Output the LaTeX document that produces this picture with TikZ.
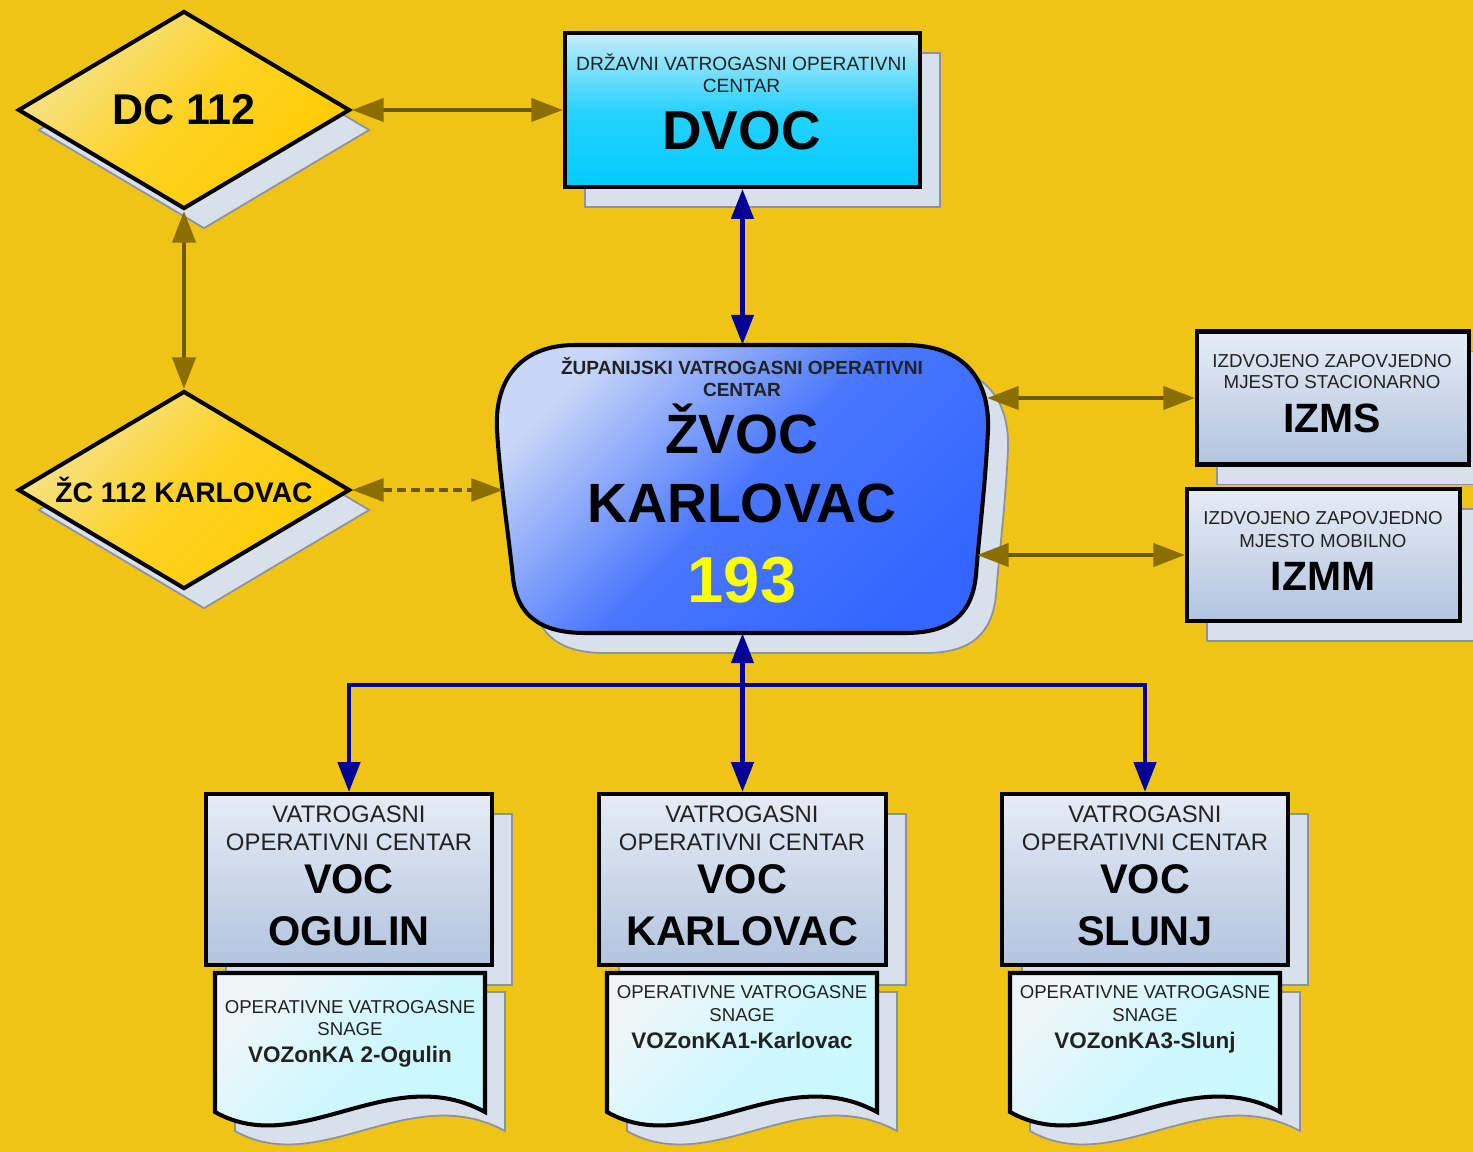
\documentclass[tikz,border=0pt]{standalone}
\usepackage{fontspec}
\setmainfont{Liberation Sans}
\usetikzlibrary{arrows.meta,shapes.geometric,shadows}
\definecolor{bgc}{HTML}{EFC415}
\definecolor{shc}{HTML}{D8E0EC}
\definecolor{shd}{HTML}{8A93A4}
\definecolor{diaL}{HTML}{F6E490}
\definecolor{diaD}{HTML}{FFCC00}
\definecolor{cyL}{HTML}{C6ECFA}
\definecolor{cyD}{HTML}{00CCFF}
\definecolor{bluL}{HTML}{C8D6F8}
\definecolor{bluD}{HTML}{3366FF}
\definecolor{grL}{HTML}{E6ECF5}
\definecolor{grD}{HTML}{B2C4DF}
\definecolor{docL}{HTML}{EEF6F8}
\definecolor{docD}{HTML}{C8F8FF}
\definecolor{olv}{HTML}{6E5800}
\definecolor{olh}{HTML}{8A6E00}
\definecolor{bln}{HTML}{000096}
\definecolor{txg}{HTML}{222222}
\definecolor{yel}{HTML}{FFFF00}
\newcommand\myfs[1]{\fontsize{#1}{#1}\selectfont}
\newcommand\docshape[2]{%
 \begin{scope}[shift={(20,19)}]
 \fill[shc,draw=shd,line width=1pt] (#1,#2) -- ({#1+270},#2) -- ({#1+270},{#2+139}) .. controls ({#1+175},{#2+87}) and ({#1+85},{#2+187}) .. (#1,{#2+139}) -- cycle;
 \end{scope}
 \draw[line width=2.3pt,top color=docL,bottom color=docD,middle color=docD!80!docL,shading angle=45] (#1,#2) -- ({#1+270},#2) -- ({#1+270},{#2+139}) .. controls ({#1+175},{#2+87}) and ({#1+85},{#2+187}) .. (#1,{#2+139}) -- cycle;
}
\begin{document}
\begin{tikzpicture}[x=0.02cm,y=-0.02cm,
 shadowed/.style={drop shadow={shadow xshift=0.4cm,shadow yshift=-0.4cm,opacity=1,fill=shc,draw=shd,line width=1pt}},
 diam/.style={shape=diamond,aspect=1.68,inner sep=0pt,minimum width=6.64cm,minimum height=3.96cm,draw=black,line width=2.3pt,top color=diaL,bottom color=diaD,middle color=diaD!75!diaL,shading angle=45,shadowed},
 rbox/.style={draw=black,line width=2.3pt,inner sep=0pt,shading angle=45,shadowed},
 gbox/.style={rbox,top color=grL,bottom color=grD},
 t/.style={inner sep=0pt,anchor=base,align=center},
 oarr/.style={draw=olv,line width=2.6pt,>={Triangle[length=18pt,width=13pt,color=olh]}},
 barr/.style={draw=bln,line width=2.6pt,>={Triangle[length=17pt,width=12.5pt]}}
]
\path[fill=bgc,use as bounding box] (0,0) rectangle (1473,1152);

% diamonds
\node[diam] (dc) at (184,110) {\myfs{24.5pt}\bfseries DC 112};
\node[diam] (zc) at (184,490) {\myfs{16.1pt}\bfseries ŽC 112 KARLOVAC};

% DVOC
\node[rbox,top color=cyL,bottom color=cyD,middle color=cyD!80!cyL,minimum width=7.1cm,minimum height=3.08cm] (dvoc) at (742.5,110) {};

% ZVOC
\begin{scope}[shift={(20,20)}]
\fill[shc,draw=shd,line width=1pt] (575,345) -- (905,345) .. controls (960,345) and (990,375) .. (988,430) .. controls (985,490) and (979,535) .. (976,575) .. controls (972,615) and (950,633) .. (905,633) -- (585,633) .. controls (540,633) and (517,615) .. (513,578) .. controls (508,530) and (500,480) .. (497,430) .. controls (494,375) and (525,345) .. (575,345) -- cycle;
\end{scope}
\draw[line width=2.3pt,top color=bluL,bottom color=bluD,middle color=bluD!85!bluL,shading angle=45] (575,345) -- (905,345) .. controls (960,345) and (990,375) .. (988,430) .. controls (985,490) and (979,535) .. (976,575) .. controls (972,615) and (950,633) .. (905,633) -- (585,633) .. controls (540,633) and (517,615) .. (513,578) .. controls (508,530) and (500,480) .. (497,430) .. controls (494,375) and (525,345) .. (575,345) -- cycle;
\node[minimum width=9.82cm,minimum height=5.76cm,inner sep=0pt] (zvoc) at (742.5,489) {};
\coordinate (zvocL) at (503,490);
\coordinate (zvocR1) at (987,398);
\coordinate (zvocR2) at (977,555);

% IZMS / IZMM
\node[gbox,minimum width=5.44cm,minimum height=2.66cm] (izms) at (1333,398) {};
\node[gbox,minimum width=5.46cm,minimum height=2.64cm] (izmm) at (1323.5,555) {};

% VOC boxes
\node[gbox,minimum width=5.72cm,minimum height=3.42cm] (vocO) at (349,879.5) {};
\node[gbox,minimum width=5.74cm,minimum height=3.42cm] (vocK) at (742.5,879.5) {};
\node[gbox,minimum width=5.72cm,minimum height=3.42cm] (vocS) at (1145,879.5) {};

% documents
\docshape{215}{973}
\docshape{607}{973}
\docshape{1010}{973}

% texts DVOC
\node[t,text=txg] (dv1) at (741.5,71) {\myfs{10.9pt}DRŽAVNI VATROGASNI OPERATIVNI};
\node[t,text=txg] (dv2) at (741.5,93) {\myfs{10.9pt}CENTAR};
\node[t] (dv3) at (741.5,150) {\myfs{31.2pt}\bfseries DVOC};
% texts ZVOC
\node[t,text=txg] (zv1) at (742,374) {\myfs{10.85pt}\bfseries ŽUPANIJSKI VATROGASNI OPERATIVNI};
\node[t,text=txg] (zv2) at (742,396) {\myfs{10.85pt}\bfseries CENTAR};
\node[t] (zv3) at (742,453) {\myfs{31.5pt}\bfseries ŽVOC};
\node[t] (zv4) at (742,522) {\myfs{31.5pt}\bfseries KARLOVAC};
\node[t,text=yel] (zv5) at (742,602) {\myfs{37pt}\bfseries 193};
% IZMS / IZMM
\node[t,text=txg] (is1) at (1332,367) {\myfs{10.65pt}IZDVOJENO ZAPOVJEDNO};
\node[t,text=txg] (is2) at (1332,388) {\myfs{10.65pt}MJESTO STACIONARNO};
\node[t] (is3) at (1332,432) {\myfs{23.3pt}\bfseries IZMS};
\node[t,text=txg] (im1) at (1323,524) {\myfs{10.65pt}IZDVOJENO ZAPOVJEDNO};
\node[t,text=txg] (im2) at (1323,547) {\myfs{10.65pt}MJESTO MOBILNO};
\node[t] (im3) at (1323,590) {\myfs{23.3pt}\bfseries IZMM};
% VOC texts
\node[t,text=txg] (o1) at (349,822) {\myfs{13.6pt}VATROGASNI};
\node[t,text=txg] (o2) at (349,850) {\myfs{13.6pt}OPERATIVNI CENTAR};
\node[t] (o3) at (349,893) {\myfs{23.6pt}\bfseries VOC};
\node[t] (o4) at (349,945) {\myfs{23.6pt}\bfseries OGULIN};
\node[t,text=txg] (k1) at (742,822) {\myfs{13.6pt}VATROGASNI};
\node[t,text=txg] (k2) at (742,850) {\myfs{13.6pt}OPERATIVNI CENTAR};
\node[t] (k3) at (742,893) {\myfs{23.6pt}\bfseries VOC};
\node[t] (k4) at (742,945) {\myfs{23.6pt}\bfseries KARLOVAC};
\node[t,text=txg] (s1) at (1145,822) {\myfs{13.6pt}VATROGASNI};
\node[t,text=txg] (s2) at (1145,850) {\myfs{13.6pt}OPERATIVNI CENTAR};
\node[t] (s3) at (1145,893) {\myfs{23.6pt}\bfseries VOC};
\node[t] (s4) at (1145,945) {\myfs{23.6pt}\bfseries SLUNJ};
% doc texts
\node[t,text=txg] (do1) at (350,1013) {\myfs{10.6pt}OPERATIVNE VATROGASNE};
\node[t,text=txg] (do2) at (350,1035) {\myfs{10.6pt}SNAGE};
\node[t,text=txg] (do3) at (350,1062) {\myfs{12.8pt}\bfseries VOZonKA 2-Ogulin};
\node[t,text=txg] (dk1) at (742,998) {\myfs{10.6pt}OPERATIVNE VATROGASNE};
\node[t,text=txg] (dk2) at (742,1021) {\myfs{10.6pt}SNAGE};
\node[t,text=txg] (dk3) at (742,1048) {\myfs{12.8pt}\bfseries VOZonKA1-Karlovac};
\node[t,text=txg] (ds1) at (1145,998) {\myfs{10.6pt}OPERATIVNE VATROGASNE};
\node[t,text=txg] (ds2) at (1145,1021) {\myfs{10.6pt}SNAGE};
\node[t,text=txg] (ds3) at (1145,1048) {\myfs{12.8pt}\bfseries VOZonKA3-Slunj};

% connectors
\draw[oarr,<->] (dc.east) -- (dvoc.west);
\draw[oarr,<->] (dc.south) -- (zc.north);
\draw[oarr,<->,line width=1.8pt,dash pattern=on 5pt off 3pt] (zc.east) -- (zvocL);
\draw[oarr,<->] (zvocR1) -- (izms.west);
\draw[oarr,<->] (zvocR2) -- (izmm.west);
\draw[barr,<->] (dvoc.south) -- (zvoc.north);
\draw[barr,<->] (zvoc.south) -- (vocK.north);
\coordinate (junc) at (742.5,685);
\draw[barr,->] (junc) -| (vocO.north);
\draw[barr,->] (junc) -| (vocS.north);
\end{tikzpicture}
\end{document}
